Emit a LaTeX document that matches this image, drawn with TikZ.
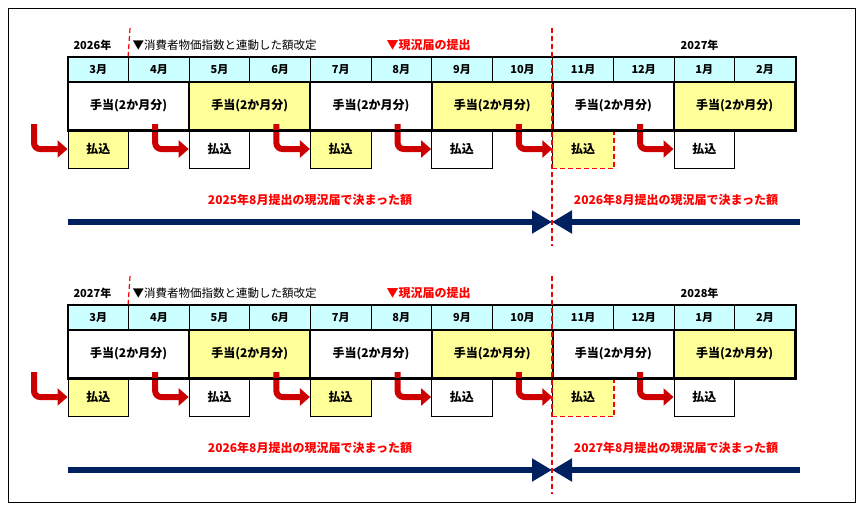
\documentclass[tikz,border=0pt]{standalone}
\usepackage{fontspec}
\setmainfont{Noto Sans CJK JP}
\usetikzlibrary{arrows.meta}
\definecolor{cy}{HTML}{CCFFFF}
\definecolor{yl}{HTML}{FFFF99}
\definecolor{nv}{HTML}{002060}
\definecolor{hk}{HTML}{CC0000}
\tikzset{
 mon/.style={draw,line width=1pt,fill=cy,minimum width=60.6pt,minimum height=25pt,inner sep=0pt,font=\bfseries\fontsize{11}{11}\selectfont},
 alw/.style={draw,line width=2pt,minimum width=121.2pt,minimum height=48pt,inner sep=0pt,font=\bfseries\fontsize{12}{12}\selectfont},
 pay/.style={draw,line width=1pt,minimum width=60.6pt,minimum height=38pt,inner sep=0pt,font=\bfseries\fontsize{12}{12}\selectfont},
 hook/.style={hk,line width=6pt,rounded corners=6pt,-{Triangle[length=10pt,width=17pt]}},
 big/.style={nv,line width=6.5pt,-{Triangle[length=20pt,width=22pt]}},
 redt/.style={text=red,font=\bfseries\fontsize{12}{12}\selectfont},
 rdash/.style={red,line width=1.2pt,dash pattern=on 5pt off 3pt},
}
\newcommand{\panel}[5]{%
 \begin{scope}[yshift=-#1pt]
 \foreach \m [count=\i from 0] in {3,4,5,6,7,8,9,10,11,12,1,2}
   \node[mon] (m#5\i) at ({68+60.6*\i+30.3},69.5) {\m 月};
 \foreach \i in {0,...,5}{
   \pgfmathsetmacro\px{68+121.2*\i}
   \ifodd\i \def\fc{yl}\else\def\fc{white}\fi
   \node[alw,fill=\fc] (a#5\i) at (\px+60.6,106) {手当(2か月分)};
   \ifodd\i \def\pc{white}\else\def\pc{yl}\fi
   \ifnum\i=4
     \node[pay,fill=yl,draw=none] (p#5\i) at (\px+30.3,149) {払込};
     \draw[line width=1pt] (p#5\i.north west) -- (p#5\i.south west);
     \draw[rdash] (p#5\i.north east) -- (p#5\i.south east) -- (p#5\i.south west);
   \else
     \node[pay,fill=\pc] (p#5\i) at (\px+30.3,149) {払込};
   \fi
   \coordinate (h#5\i) at (\px-34,124);
   \draw[hook] (h#5\i) |- (p#5\i.west);
 }
 \draw[line width=2pt] (m#50.north west) rectangle (a#55.south east);
 \node[anchor=west,font=\bfseries\fontsize{11}{11}\selectfont] (y#5a) at (70,45) {#2年};
 \node[anchor=east,font=\bfseries\fontsize{11}{11}\selectfont] (y#5b) at (722,45) {#3年};
 \node[anchor=west,font=\fontsize{11.5}{11.5}\selectfont] (c#5) at (129,45) {▼消費者物価指数と連動した額改定};
 \node[anchor=west,redt] (g#5) at (383,45) {▼現況届の提出};
 \coordinate (t#5) at (130,28);
 \draw[rdash] (t#5) -- (m#51.north west);
 \coordinate (u#5) at (552,28);
 \coordinate (v#5) at (552,246);
 \draw[rdash] (u#5) -- (v#5);
 \coordinate (l#5) at (68,222);
 \coordinate (c#5m) at (552,222);
 \coordinate (r#5) at (800,222);
 \draw[big] (l#5) -- (c#5m);
 \draw[big] (r#5) -- (c#5m);
 \node[redt] (x#5) at (310,200) {#4年8月提出の現況届で決まった額};
 \node[redt] (z#5) at (676,200) {#2年8月提出の現況届で決まった額};
 \end{scope}}
\begin{document}
\begin{tikzpicture}[x=1pt,y=-1pt]
\useasboundingbox (0,0) rectangle (864,512);
\node[draw,line width=0.8pt,minimum width=847pt,minimum height=494pt,anchor=north west] (frame) at (8,8) {};
\panel{0}{2026}{2027}{2025}{a}
\panel{248}{2027}{2028}{2026}{b}
\end{tikzpicture}
\end{document}
